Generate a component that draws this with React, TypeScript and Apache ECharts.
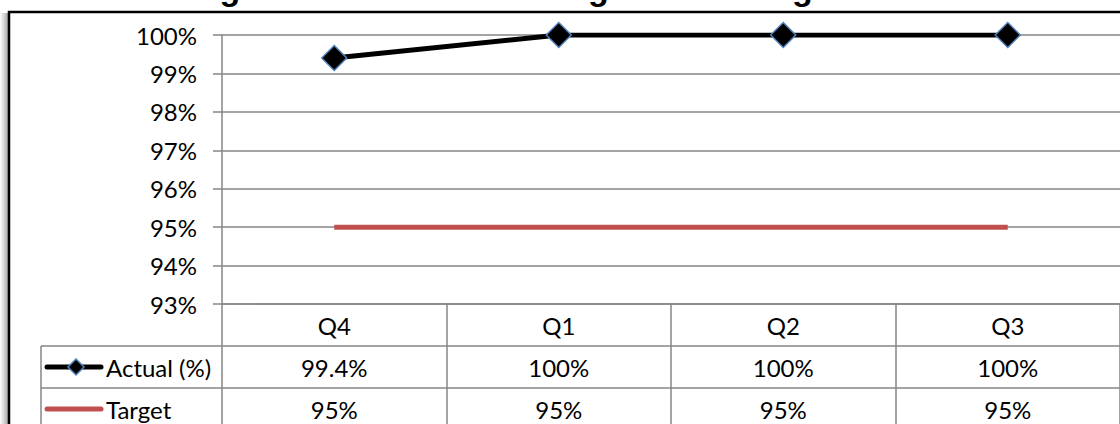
import React, { useEffect, useRef } from "react";
import * as echarts from "echarts";

// Quarterly results against the target
const quarters = ["Q4", "Q1", "Q2", "Q3"];
const actualValues = [99.4, 100, 100, 100];
const targetValues = [95, 95, 95, 95];
const seriesNames = ["Actual (%)", "Target"];
const titleText = "The Percentage of Decisions Meeting Service target";

const FONT = "Lato";
const FONT_SIZE = 24;
const GRID_LEFT = 222;
const GRID_TOP = 35;
const GRID_WIDTH = 901;
const GRID_HEIGHT = 269;
const ROW_H = 42;
const LINE_COLOR = "#868686";
const ACTUAL_COLOR = "#000000";
const MARKER_BORDER = "#4f81bd";
const TARGET_COLOR = "#c0504d";

const pct = (v: number) => `${v}%`;

export default function App() {
  const ref = useRef<HTMLDivElement>(null);

  useEffect(() => {
    if (!ref.current) return;
    const chart = echarts.init(ref.current, undefined, { renderer: "svg" });
    const axisBottom = GRID_TOP + GRID_HEIGHT;
    const row1Mid = axisBottom + ROW_H * 1.5;
    const row2Mid = axisBottom + ROW_H * 2.5;

    // Legend keys drawn in the data table's first column
    const legendKey = (name: string, y: number, withMarker: boolean, color: string) => {
      const children: any[] = [
        {
          type: "line",
          shape: { x1: 47, y1: y, x2: 101, y2: y },
          style: { stroke: color, lineWidth: 5, lineCap: "round" },
        },
      ];
      if (withMarker) {
        children.push({
          type: "polygon",
          shape: { points: [[76, y - 8], [84, y], [76, y + 8], [68, y]] },
          style: { fill: ACTUAL_COLOR, stroke: MARKER_BORDER, lineWidth: 1.5 },
        });
      }
      children.push({
        type: "text",
        x: 106,
        y,
        style: {
          text: name,
          font: `${FONT_SIZE}px ${FONT}`,
          fill: "#000",
          verticalAlign: "middle",
        },
      });
      return { type: "group", silent: true, children };
    };

    chart.setOption({
      animation: false,
      backgroundColor: "#ffffff",
      textStyle: { fontFamily: FONT },
      grid: { left: GRID_LEFT, top: GRID_TOP, width: GRID_WIDTH, height: GRID_HEIGHT },
      xAxis: {
        type: "category",
        data: quarters,
        boundaryGap: true,
        axisLine: { lineStyle: { color: LINE_COLOR, width: 1.5 } },
        axisTick: { show: true, length: ROW_H * 3 + 4, lineStyle: { color: LINE_COLOR, width: 1.5 } },
        splitLine: { show: false },
        axisLabel: {
          interval: 0,
          margin: 0,
          formatter: (value: string, idx: number) =>
            `{c|${value}}\n{c|${pct(actualValues[idx])}}\n{c|${pct(targetValues[idx])}}`,
          rich: {
            c: { fontFamily: FONT, fontSize: FONT_SIZE, color: "#000", lineHeight: ROW_H, align: "center" },
          },
        },
      },
      yAxis: {
        type: "value",
        min: 93,
        max: 100,
        interval: 1,
        axisLine: { show: true, lineStyle: { color: LINE_COLOR, width: 1.5 } },
        axisTick: { show: true, length: 9, lineStyle: { color: LINE_COLOR, width: 1.5 } },
        splitLine: { lineStyle: { color: LINE_COLOR, width: 1.5 } },
        axisLabel: {
          formatter: (v: number) => pct(v),
          margin: 25,
          fontFamily: FONT,
          fontSize: FONT_SIZE,
          color: "#000",
        },
      },
      series: [
        {
          name: seriesNames[0],
          type: "line",
          data: actualValues,
          z: 5,
          lineStyle: { color: ACTUAL_COLOR, width: 5 },
          symbol: "diamond",
          symbolSize: 25,
          itemStyle: { color: ACTUAL_COLOR, borderColor: MARKER_BORDER, borderWidth: 1.5 },
        },
        {
          name: seriesNames[1],
          type: "line",
          data: targetValues,
          z: 4,
          lineStyle: { color: TARGET_COLOR, width: 5 },
          itemStyle: { color: TARGET_COLOR },
          symbol: "none",
        },
      ],
      graphic: [
        {
          type: "rect",
          silent: true,
          z: -2,
          shape: { x: 0, y: 13, width: 8, height: 600 },
          style: {
            fill: new echarts.graphic.LinearGradient(0, 0, 1, 0, [
              { offset: 0, color: "#ffffff" },
              { offset: 1, color: "#a8a8a8" },
            ]),
          },
        },
        {
          type: "rect",
          silent: true,
          z: -1,
          shape: { x: 9, y: 12, width: 1300, height: 600 },
          style: { fill: "none", stroke: "#000", lineWidth: 2.5 },
        },
        {
          type: "text",
          silent: true,
          x: 6,
          y: 5,
          style: {
            text: titleText,
            font: 'bold 34px "Liberation Sans"',
            fill: "#000",
            verticalAlign: "bottom",
          },
        },
        {
          type: "line",
          silent: true,
          shape: { x1: 41, y1: axisBottom + ROW_H, x2: 1130, y2: axisBottom + ROW_H },
          style: { stroke: LINE_COLOR, lineWidth: 1.5 },
        },
        {
          type: "line",
          silent: true,
          shape: { x1: 41, y1: axisBottom + ROW_H * 2, x2: 1130, y2: axisBottom + ROW_H * 2 },
          style: { stroke: LINE_COLOR, lineWidth: 1.5 },
        },
        {
          type: "line",
          silent: true,
          shape: { x1: 41, y1: axisBottom + ROW_H, x2: 41, y2: 440 },
          style: { stroke: LINE_COLOR, lineWidth: 1.5 },
        },
        legendKey(seriesNames[0], row1Mid, true, ACTUAL_COLOR),
        legendKey(seriesNames[1], row2Mid, false, TARGET_COLOR),
      ],
    });

    return () => chart.dispose();
  }, []);

  return (
    <div
      ref={ref}
      style={{ position: "fixed", left: 0, top: 0, width: 1120, height: 424, background: "#fff" }}
    />
  );
}
